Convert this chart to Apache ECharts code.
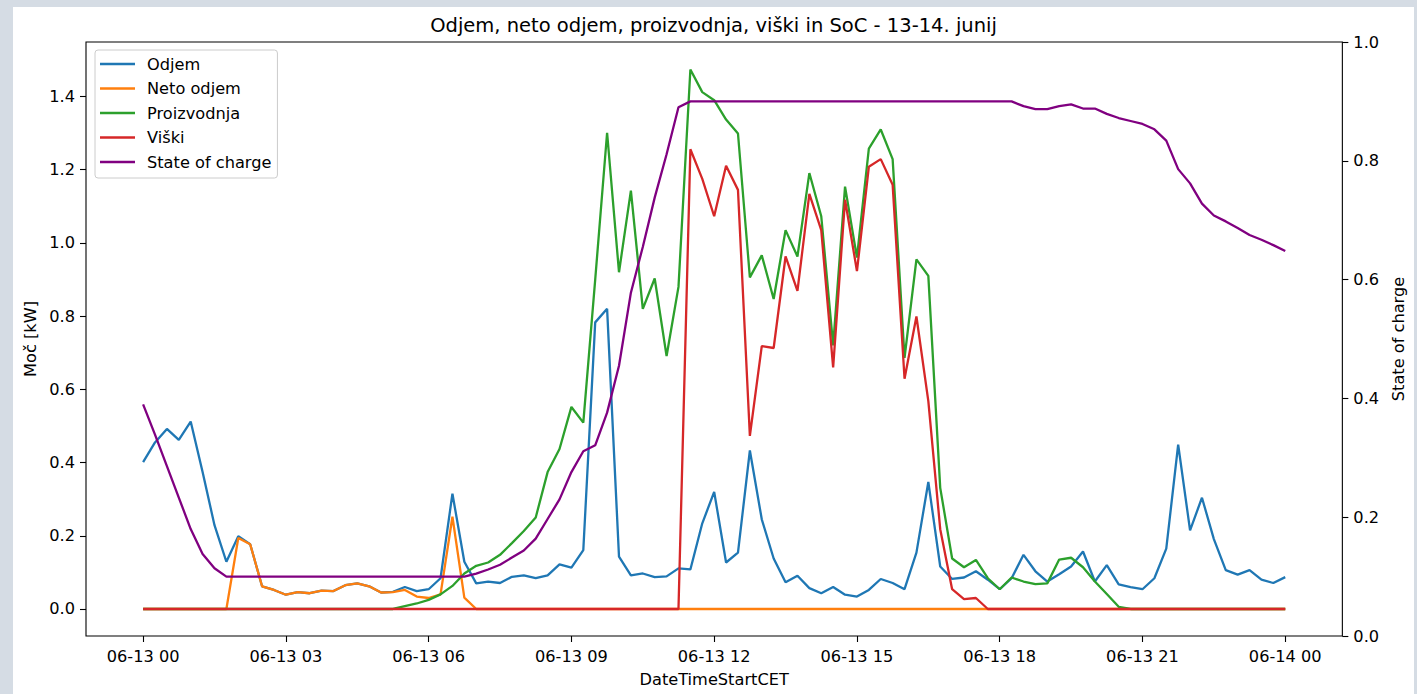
<!DOCTYPE html>
<html>
<head>
<meta charset="utf-8">
<script src="https://cdn.jsdelivr.net/npm/echarts@6/dist/echarts.min.js"></script>
<style>
html,body{margin:0;padding:0;background:#d5dce4;width:1417px;height:694px;overflow:hidden;}
#chart{position:absolute;left:13px;top:7px;width:1401px;height:687px;background:#ffffff;}
</style>
</head>
<body>
<div id="chart"></div>
<script>
// 15-minute steps, 06-13 00:00 .. 06-14 00:00 (hours from start)
const hours = Array.from({length: 97}, (_, i) => i / 4);
const xTickHours = [0, 3, 6, 9, 12, 15, 18, 21, 24];
const xTickLabels = ['06-13 00','06-13 03','06-13 06','06-13 09','06-13 12','06-13 15','06-13 18','06-13 21','06-14 00'];
const leftTicks = [0, 0.2, 0.4, 0.6, 0.8, 1.0, 1.2, 1.4];

const odjem = [0.401,0.455,0.492,0.462,0.512,0.374,0.229,0.129,0.199,0.177,0.062,0.052,0.039,0.046,0.043,0.050,0.049,0.065,0.070,0.062,0.045,0.047,0.060,0.049,0.054,0.084,0.315,0.129,0.070,0.075,0.071,0.088,0.092,0.084,0.092,0.122,0.113,0.161,0.783,0.820,0.143,0.092,0.097,0.087,0.089,0.111,0.108,0.234,0.320,0.127,0.154,0.433,0.245,0.138,0.073,0.091,0.057,0.043,0.060,0.039,0.034,0.052,0.082,0.071,0.054,0.154,0.347,0.116,0.082,0.086,0.103,0.080,0.054,0.084,0.148,0.103,0.075,0.095,0.116,0.157,0.075,0.120,0.067,0.060,0.054,0.084,0.165,0.449,0.215,0.304,0.191,0.106,0.094,0.106,0.080,0.071,0.087];
const netoOdjem = [0,0,0,0,0,0,0,0,0.194,0.177,0.062,0.052,0.039,0.046,0.043,0.050,0.049,0.065,0.070,0.062,0.045,0.046,0.052,0.034,0.030,0.040,0.252,0.031,0,0,0,0,0,0,0,0,0,0,0,0,0,0,0,0,0,0,0,0,0,0,0,0,0,0,0,0,0,0,0,0,0,0,0,0,0,0,0,0,0,0,0,0,0,0,0,0,0,0,0,0,0,0,0,0,0,0,0,0,0,0,0,0,0,0,0,0,0];
const proizvodnja = [0,0,0,0,0,0,0,0,0,0,0,0,0,0,0,0,0,0,0,0,0,0,0.008,0.015,0.025,0.040,0.063,0.097,0.118,0.127,0.148,0.180,0.213,0.250,0.374,0.437,0.552,0.509,0.900,1.301,0.920,1.143,0.820,0.903,0.691,0.880,1.474,1.412,1.390,1.337,1.299,0.906,0.966,0.847,1.035,0.963,1.191,1.073,0.720,1.154,0.960,1.258,1.310,1.229,0.686,0.955,0.910,0.331,0.138,0.114,0.134,0.084,0.054,0.086,0.075,0.068,0.070,0.135,0.140,0.114,0.075,0.041,0.006,0,0,0,0,0,0,0,0,0,0,0,0,0,0];
const viski = [0,0,0,0,0,0,0,0,0,0,0,0,0,0,0,0,0,0,0,0,0,0,0,0,0,0,0,0,0,0,0,0,0,0,0,0,0,0,0,0,0,0,0,0,0,0,1.256,1.175,1.073,1.211,1.145,0.473,0.718,0.713,0.963,0.869,1.134,1.035,0.660,1.118,0.923,1.208,1.229,1.159,0.629,0.799,0.568,0.218,0.054,0.027,0.030,0,0,0,0,0,0,0,0,0,0,0,0,0,0,0,0,0,0,0,0,0,0,0,0,0,0];
const stateOfCharge = [0.390,0.339,0.286,0.233,0.180,0.138,0.114,0.100,0.100,0.100,0.100,0.100,0.100,0.100,0.100,0.100,0.100,0.100,0.100,0.100,0.100,0.100,0.100,0.100,0.100,0.100,0.100,0.100,0.105,0.112,0.120,0.132,0.144,0.164,0.197,0.230,0.276,0.311,0.321,0.376,0.455,0.578,0.655,0.738,0.811,0.890,0.900,0.900,0.900,0.900,0.900,0.900,0.900,0.900,0.900,0.900,0.900,0.900,0.900,0.900,0.900,0.900,0.900,0.900,0.900,0.900,0.900,0.900,0.900,0.900,0.900,0.900,0.900,0.900,0.892,0.887,0.887,0.892,0.895,0.888,0.888,0.879,0.872,0.867,0.862,0.853,0.834,0.786,0.762,0.728,0.708,0.698,0.687,0.675,0.667,0.658,0.648];

const pair = arr => hours.map((h, i) => [h, arr[i]]);
const FONT = 'DejaVu Sans';
const FS = 16.2;
const tickStyle = {show: true, inside: false, length: 6, lineStyle: {color: '#000', width: 1.1}};

function lineSeries(name, data, color, yIdx) {
  return {
    name: name, type: 'line', data: pair(data), yAxisIndex: yIdx,
    showSymbol: false, symbol: 'none', smooth: false,
    lineStyle: {color: color, width: 2.3}, itemStyle: {color: color},
    emphasis: {disabled: true}, animation: false
  };
}

const chart = echarts.init(document.getElementById('chart'), null, {renderer: 'svg'});
chart.setOption({
  animation: false,
  textStyle: {fontFamily: FONT},
  title: {
    text: 'Odjem, neto odjem, proizvodnja, viški in SoC - 13-14. junij',
    left: 'center', top: 6, padding: 0,
    textStyle: {fontFamily: FONT, fontSize: 19.5, fontWeight: 'normal', color: '#000', lineHeight: 24}
  },
  legend: {
    orient: 'vertical', left: 82, top: 43,
    padding: [5, 6, 7, 5], itemGap: 6.5,
    itemWidth: 35, itemHeight: 2.4, icon: 'rect',
    backgroundColor: 'rgba(255,255,255,0.8)', borderColor: '#cccccc', borderWidth: 1, borderRadius: 3,
    textStyle: {fontFamily: FONT, fontSize: FS, color: '#000', lineHeight: 18, padding: [0, 0, 0, 7]},
    data: ['Odjem', 'Neto odjem', 'Proizvodnja', 'Viški', 'State of charge']
  },
  grid: {left: 73, top: 35, width: 1258, height: 596, show: true, borderColor: '#000', borderWidth: 1.1, backgroundColor: 'transparent', containLabel: false},
  xAxis: {
    type: 'value', min: -1.2, max: 25.2,
    name: 'DateTimeStartCET', nameLocation: 'middle', nameGap: 33,
    nameTextStyle: {fontFamily: FONT, fontSize: FS, color: '#000', lineHeight: 20},
    axisLine: {show: false, onZero: false},
    axisTick: Object.assign({customValues: xTickHours}, tickStyle),
    axisLabel: {customValues: xTickHours, margin: 12, fontFamily: FONT, fontSize: FS, color: '#000',
      formatter: v => xTickLabels[xTickHours.indexOf(Math.round(v))] || ''},
    splitLine: {show: false}
  },
  yAxis: [
    {
      type: 'value', min: -0.0738, max: 1.549, position: 'left',
      name: 'Moč [kW]', nameLocation: 'middle', nameGap: 46,
      nameTextStyle: {fontFamily: FONT, fontSize: FS, color: '#000'},
      axisLine: {show: false, onZero: false},
      axisTick: Object.assign({customValues: leftTicks}, tickStyle),
      axisLabel: {customValues: leftTicks, margin: 11, fontFamily: FONT, fontSize: FS, color: '#000', formatter: v => v.toFixed(1)},
      splitLine: {show: false}
    },
    {
      type: 'value', min: 0, max: 1, interval: 0.2, position: 'right',
      name: 'State of charge', nameLocation: 'middle', nameGap: 44,
      nameTextStyle: {fontFamily: FONT, fontSize: FS, color: '#000'},
      axisLine: {show: false, onZero: false},
      axisTick: tickStyle,
      axisLabel: {margin: 11, fontFamily: FONT, fontSize: FS, color: '#000', formatter: v => v.toFixed(1)},
      splitLine: {show: false}
    }
  ],
  series: [
    lineSeries('Odjem', odjem, '#1f77b4', 0),
    lineSeries('Neto odjem', netoOdjem, '#ff7f0e', 0),
    lineSeries('Proizvodnja', proizvodnja, '#2ca02c', 0),
    lineSeries('Viški', viski, '#d62728', 0),
    lineSeries('State of charge', stateOfCharge, '#800080', 1)
  ]
});
</script>
</body>
</html>
